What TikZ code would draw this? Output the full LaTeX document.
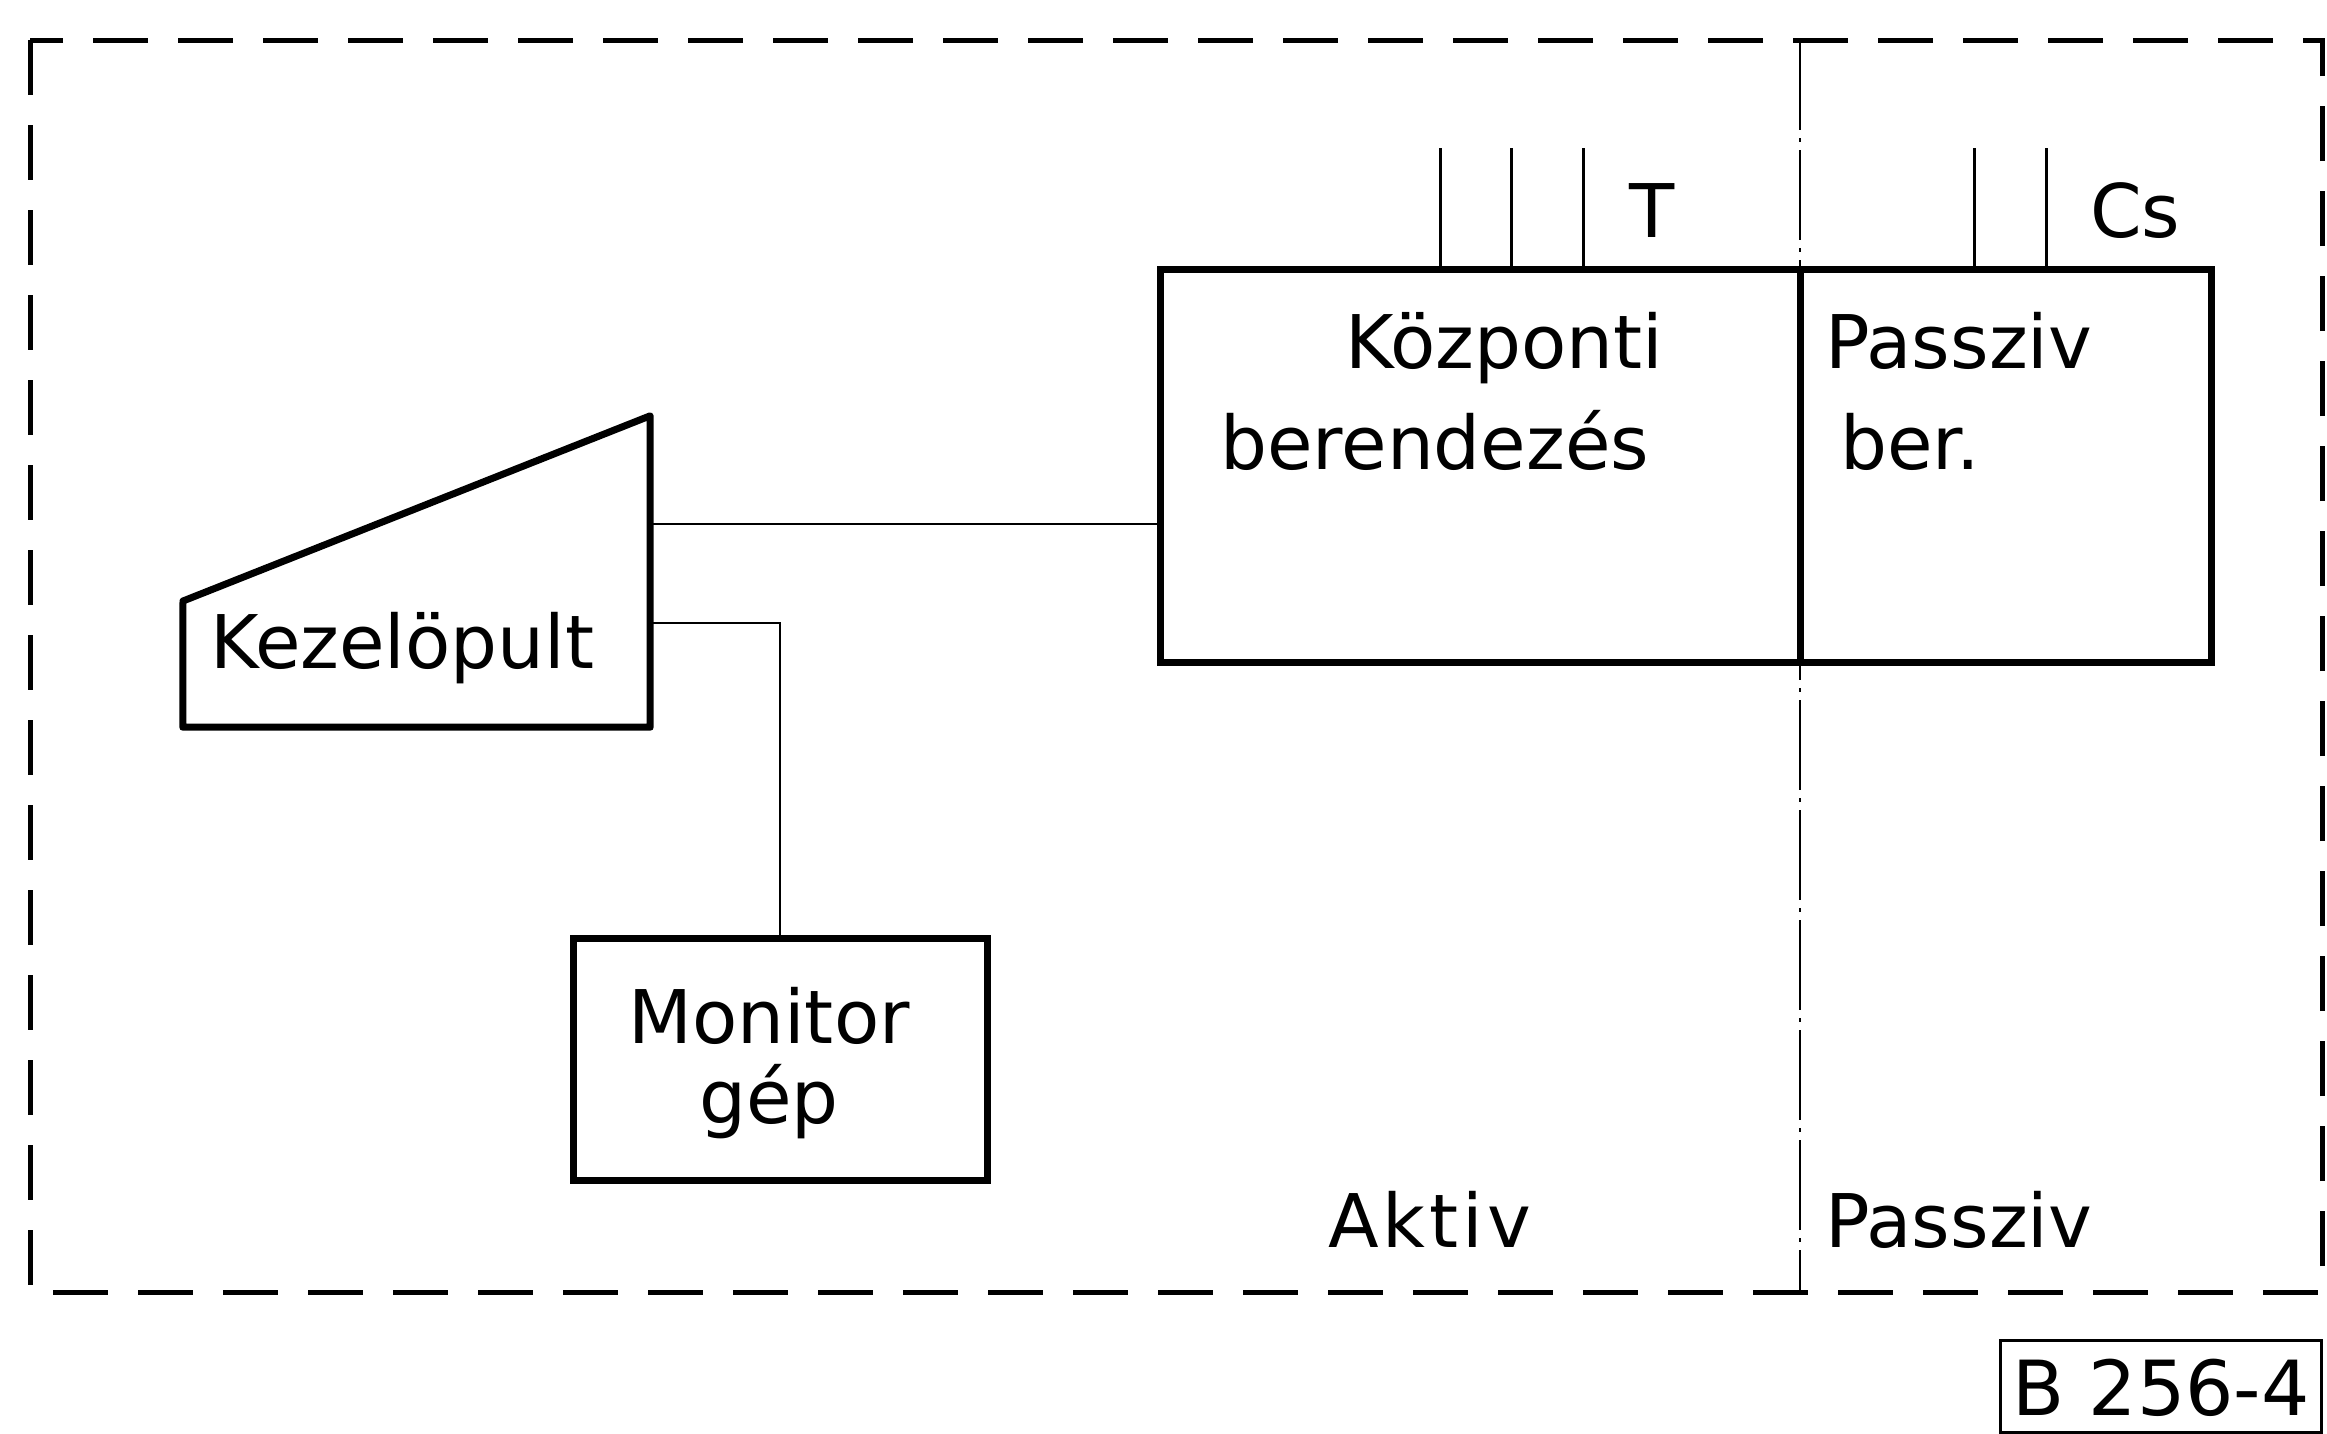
\documentclass[tikz,border=0pt]{standalone}
\usepackage{fontspec}
\setmainfont{DejaVu Sans}
\begin{document}
\begin{tikzpicture}[x=1pt,y=-1pt,
  box/.style={draw, line width=7pt, inner sep=0pt},
  wire/.style={line width=2.5pt},
  lead/.style={line width=3pt},
  lbl/.style={inner sep=0pt, font=\fontsize{74}{74}\selectfont},
  frame/.style={line width=5pt, dash pattern=on 55pt off 30pt},
  divider/.style={line width=2.5pt, dash pattern=on 90pt off 8pt on 4pt off 8pt}]
\useasboundingbox (0,0) rectangle (2327,1433);

% outer boundary and active/passive divider
\draw[frame] (30,40) rectangle (2322,1292);
\draw[divider] (1800,40) -- (1800,1292);

% central equipment, active and passive halves
\node[box, minimum width=640pt, minimum height=393pt] (akt) at (1480,465.5) {};
\node[box, minimum width=411pt, minimum height=393pt] (pas) at (2005.5,465.5) {};
\node[lbl, anchor=base west] (kozp1) at (1345,368) {Központi};
\node[lbl, anchor=base west] (kozp2) at (1220,469) {berendezés};
\node[lbl, anchor=base west] (pas1) at (1825,368) {Passziv};
\node[lbl, anchor=base west] (pas2) at (1840,469) {ber.};

% external lines on top
\foreach \x/\n in {1440/t1,1511/t2,1583/t3,1974/c1,2046/c2}
  \coordinate (\n) at (\x,148);
\foreach \n in {t1,t2,t3}
  \draw[lead] (\n) -- (\n |- akt.north);
\foreach \n in {c1,c2}
  \draw[lead] (\n) -- (\n |- pas.north);
\node[lbl, anchor=base] (tl) at (1652,237) {T};
\node[lbl, anchor=base west] (csl) at (2090,237) {Cs};

% operator console
\node[minimum width=467pt, minimum height=311pt, inner sep=0pt] (kez) at (416.5,571.5) {};
\draw[line width=7pt, line join=round]
  (kez.south west) -- (183,601) -- (kez.north east) -- (kez.south east) -- cycle;
\node[lbl, anchor=base west] (kezl) at (210,668) {Kezelöpult};

% monitor machine
\node[box, minimum width=414pt, minimum height=242pt] (mon) at (780,1059) {};
\node[lbl, anchor=base] (mon1) at (769,1043) {Monitor};
\node[lbl, anchor=base] (mon2) at (769,1123) {gép};

% connections
\coordinate (ya) at (0,524);
\coordinate (yb) at (0,623);
\draw[wire] (kez.east |- ya) -- (akt.west |- ya);
\draw[wire] (kez.east |- yb) -| (mon.north);

% zone labels
\node[lbl, anchor=base west] (aktl) at (1328,1247) {A\kern4pt k\kern4pt t\kern4pt i\kern4pt v};
\node[lbl, anchor=base west] (pasl) at (1825,1247) {Passziv};

% drawing number
\node[draw, line width=3pt, minimum width=321pt, minimum height=92pt, inner sep=0pt] (num) at (2161,1386) {};
\node[inner sep=0pt, anchor=base, font=\fontsize{76}{76}\selectfont] (numl) at (2161,1415) {B 256-4};
\end{tikzpicture}
\end{document}
